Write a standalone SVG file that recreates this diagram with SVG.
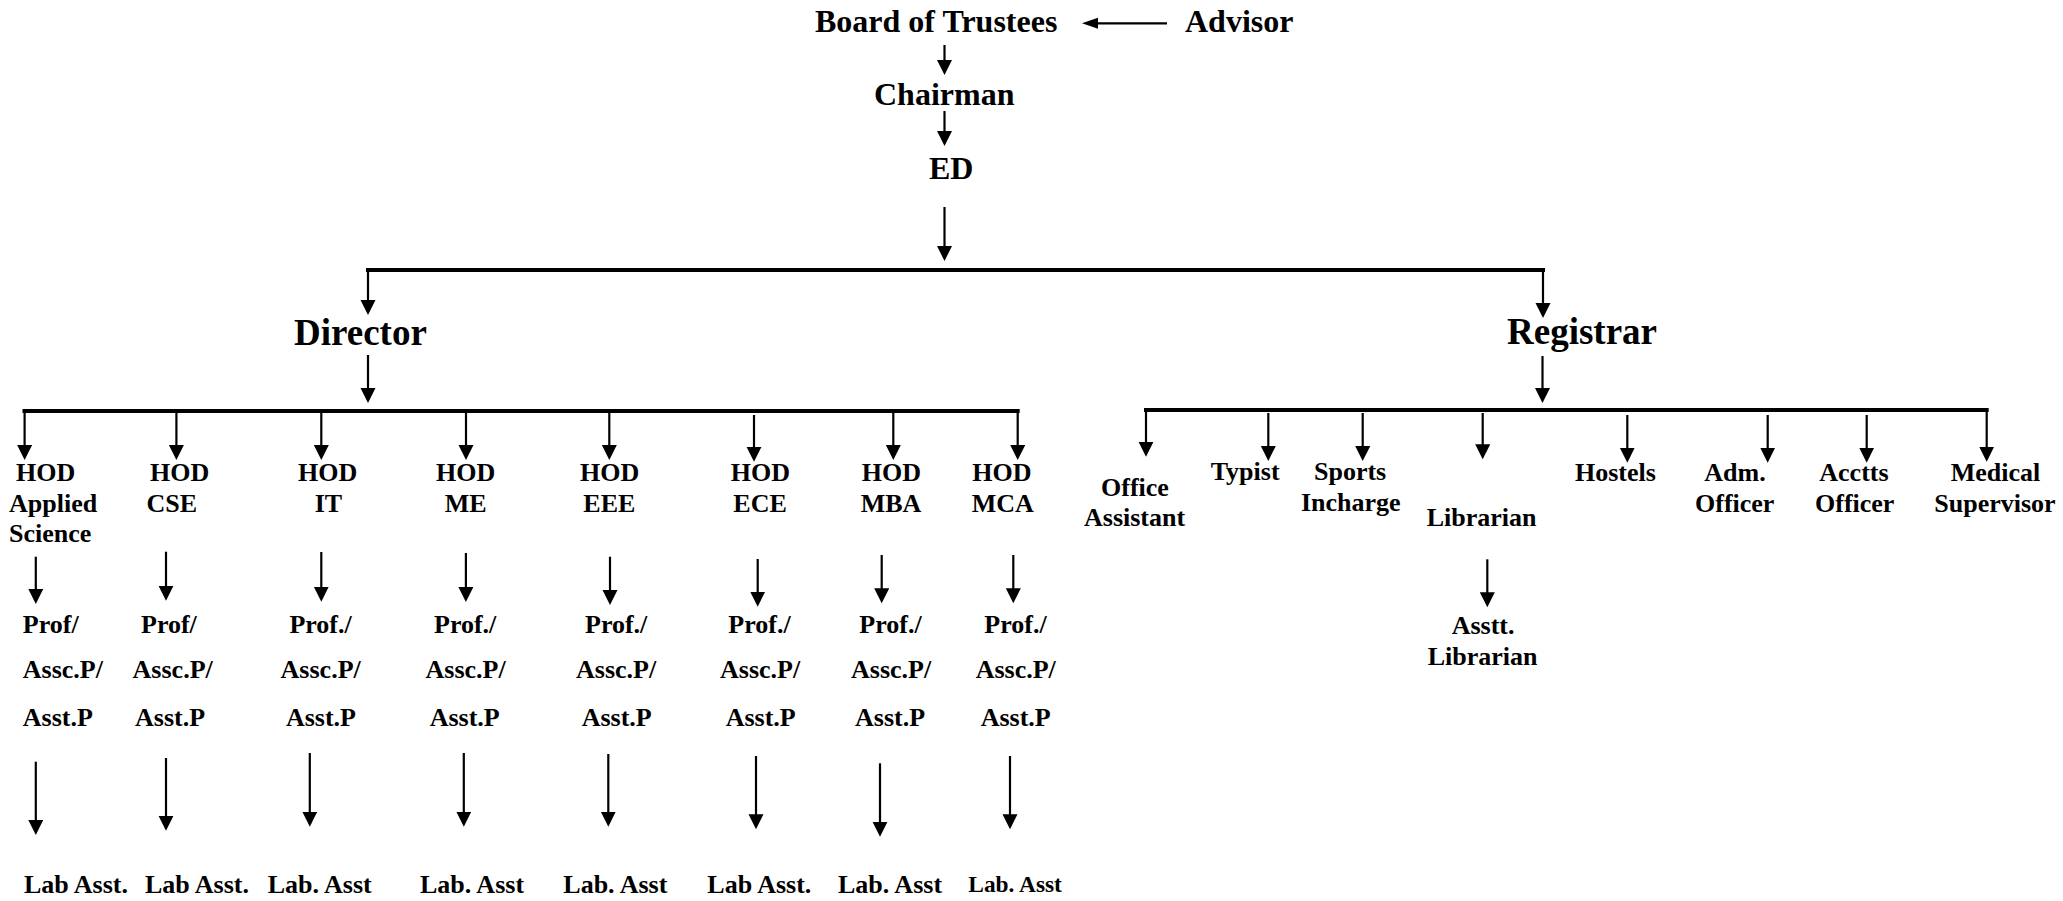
<svg xmlns="http://www.w3.org/2000/svg" width="2063" height="901" viewBox="0 0 2063 901">
<style>
text{font-family:"Liberation Serif","Times New Roman",serif;font-weight:bold;fill:#000}
.t1{font-size:32px}
.t2{font-size:37px}
.t3{font-size:26px}
.t4{font-size:23.4px}
.ln{stroke:#000;stroke-width:2.2;fill:none}
.bar{stroke:#000;stroke-width:4;fill:none;stroke-linecap:square}
.ar{stroke:#000;stroke-width:2.2;fill:none;marker-end:url(#ah)}
.ars{stroke:#000;stroke-width:2.2;fill:none;marker-end:url(#ahs)}
</style>
<defs>
<marker id="ah" markerUnits="userSpaceOnUse" markerWidth="16" markerHeight="16" refX="4" refY="7.5" orient="auto">
<path d="M0,0 L15,7.5 L0,15 Z" fill="#000"/>
</marker>
<marker id="ahs" markerUnits="userSpaceOnUse" markerWidth="17" markerHeight="12" refX="4" refY="5.5" orient="auto">
<path d="M0,0 L16,5.5 L0,11 Z" fill="#000"/>
</marker>
</defs>
<rect width="2063" height="901" fill="#fff"/>

<g id="connectors">
<line class="ars" x1="1167" y1="23.3" x2="1094" y2="23.3"/>
<line class="ar" x1="944.5" y1="45" x2="944.5" y2="64"/>
<line class="ar" x1="944.5" y1="111" x2="944.5" y2="135"/>
<line class="ar" x1="944.5" y1="207" x2="944.5" y2="250"/>
<path class="bar" d="M368,270 H1543"/>
<line class="ar" x1="368" y1="270" x2="368" y2="304"/>
<line class="ar" x1="1543" y1="270" x2="1543" y2="307"/>
<line class="ar" x1="368" y1="355" x2="368" y2="392"/>
<line class="ar" x1="1542.5" y1="356" x2="1542.5" y2="392"/>
<path class="bar" d="M24.5,411 H1017.7"/>
<line class="ar" x1="24.6" y1="411" x2="24.6" y2="449"/>
<line class="ar" x1="176.4" y1="411" x2="176.4" y2="449"/>
<line class="ar" x1="321.3" y1="411" x2="321.3" y2="449"/>
<line class="ar" x1="466" y1="411" x2="466" y2="449"/>
<line class="ar" x1="609.3" y1="411" x2="609.3" y2="449"/>
<line class="ar" x1="754" y1="415" x2="754" y2="450.7"/>
<line class="ar" x1="893.3" y1="411" x2="893.3" y2="449"/>
<line class="ar" x1="1017.7" y1="411" x2="1017.7" y2="449"/>
<path class="bar" d="M1146,410 H1986.7"/>
<line class="ar" x1="1146" y1="410" x2="1146" y2="445.7"/>
<line class="ar" x1="1268.3" y1="413" x2="1268.3" y2="450"/>
<line class="ar" x1="1362.7" y1="413" x2="1362.7" y2="450"/>
<line class="ar" x1="1482.7" y1="413" x2="1482.7" y2="448.3"/>
<line class="ar" x1="1627.3" y1="415" x2="1627.3" y2="451.7"/>
<line class="ar" x1="1767.7" y1="415" x2="1767.7" y2="451.7"/>
<line class="ar" x1="1866.7" y1="415" x2="1866.7" y2="451.7"/>
<line class="ar" x1="1986.7" y1="410" x2="1986.7" y2="450.7"/>
<line class="ar" x1="1487.3" y1="559.3" x2="1487.3" y2="596.3"/>
<line class="ar" x1="35.8" y1="556.7" x2="35.8" y2="593"/>
<line class="ar" x1="166" y1="551.7" x2="166" y2="589.7"/>
<line class="ar" x1="321.3" y1="552" x2="321.3" y2="590.7"/>
<line class="ar" x1="465.9" y1="553" x2="465.9" y2="591"/>
<line class="ar" x1="610" y1="556.7" x2="610" y2="594"/>
<line class="ar" x1="757.7" y1="559" x2="757.7" y2="595.7"/>
<line class="ar" x1="881.7" y1="555" x2="881.7" y2="592.3"/>
<line class="ar" x1="1013.3" y1="555" x2="1013.3" y2="592.3"/>
<line class="ar" x1="35.8" y1="761.7" x2="35.8" y2="824"/>
<line class="ar" x1="166" y1="758" x2="166" y2="819.7"/>
<line class="ar" x1="309.8" y1="753" x2="309.8" y2="815.7"/>
<line class="ar" x1="463.8" y1="753" x2="463.8" y2="815.7"/>
<line class="ar" x1="608.3" y1="754" x2="608.3" y2="815.7"/>
<line class="ar" x1="756" y1="756" x2="756" y2="818.3"/>
<line class="ar" x1="880" y1="763.3" x2="880" y2="825.7"/>
<line class="ar" x1="1010" y1="756" x2="1010" y2="818.3"/>
</g>

<g id="board"><text class="t1" x="815" y="31.5">Board of Trustees</text></g>
<g id="advisor"><text class="t1" x="1185" y="31.5">Advisor</text></g>
<g id="chairman"><text class="t1" x="874" y="105">Chairman</text></g>
<g id="ed"><text class="t1" x="929" y="179">ED</text></g>
<g id="director"><text class="t2" x="294" y="345">Director</text></g>
<g id="registrar"><text class="t2" x="1507" y="344">Registrar</text></g>

<g id="hod-as" class="t3"><text class="t3" x="16" y="481">HOD</text><text class="t3" x="9" y="511.5">Applied</text><text class="t3" x="9" y="542">Science</text></g>
<g id="hod-cse"><text class="t3" x="150" y="481">HOD</text><text class="t3" x="146.6" y="511.5">CSE</text></g>
<g id="hod-it"><text class="t3" x="298" y="481">HOD</text><text class="t3" x="314.7" y="511.5">IT</text></g>
<g id="hod-me"><text class="t3" x="436" y="481">HOD</text><text class="t3" x="444.8" y="511.5">ME</text></g>
<g id="hod-eee"><text class="t3" x="580" y="481">HOD</text><text class="t3" x="583.3" y="511.5">EEE</text></g>
<g id="hod-ece"><text class="t3" x="730.7" y="481">HOD</text><text class="t3" x="733.3" y="511.5">ECE</text></g>
<g id="hod-mba"><text class="t3" x="861.7" y="481">HOD</text><text class="t3" x="860.7" y="511.5">MBA</text></g>
<g id="hod-mca"><text class="t3" x="972.3" y="481">HOD</text><text class="t3" x="971.7" y="511.5">MCA</text></g>

<g id="prof-as"><text class="t3" x="22.8" y="633.3">Prof/</text><text class="t3" x="22.8" y="678.3">Assc.P/</text><text class="t3" x="22.8" y="725.7">Asst.P</text></g>
<g id="prof-cse"><text class="t3" x="141" y="633.3">Prof/</text><text class="t3" x="132.6" y="678.3">Assc.P/</text><text class="t3" x="135" y="725.7">Asst.P</text></g>
<g id="prof-it"><text class="t3" x="289.4" y="633.3">Prof./</text><text class="t3" x="280.6" y="678.3">Assc.P/</text><text class="t3" x="285.9" y="725.7">Asst.P</text></g>
<g id="prof-me"><text class="t3" x="434" y="633.3">Prof./</text><text class="t3" x="425.5" y="678.3">Assc.P/</text><text class="t3" x="429.7" y="725.7">Asst.P</text></g>
<g id="prof-eee"><text class="t3" x="585" y="633.3">Prof./</text><text class="t3" x="576" y="678.3">Assc.P/</text><text class="t3" x="581.7" y="725.7">Asst.P</text></g>
<g id="prof-ece"><text class="t3" x="728.3" y="633.3">Prof./</text><text class="t3" x="720" y="678.3">Assc.P/</text><text class="t3" x="725.7" y="725.7">Asst.P</text></g>
<g id="prof-mba"><text class="t3" x="859.3" y="633.3">Prof./</text><text class="t3" x="851" y="678.3">Assc.P/</text><text class="t3" x="855" y="725.7">Asst.P</text></g>
<g id="prof-mca"><text class="t3" x="984.3" y="633.3">Prof./</text><text class="t3" x="975.7" y="678.3">Assc.P/</text><text class="t3" x="980.7" y="725.7">Asst.P</text></g>

<g id="lab-as"><text class="t3" x="23.9" y="893">Lab Asst.</text></g>
<g id="lab-cse"><text class="t3" x="144.9" y="893">Lab Asst.</text></g>
<g id="lab-it"><text class="t3" x="267.7" y="893">Lab. Asst</text></g>
<g id="lab-me"><text class="t3" x="420" y="893">Lab. Asst</text></g>
<g id="lab-eee"><text class="t3" x="563.3" y="893">Lab. Asst</text></g>
<g id="lab-ece"><text class="t3" x="707.3" y="893">Lab Asst.</text></g>
<g id="lab-mba"><text class="t3" x="838" y="893">Lab. Asst</text></g>
<g id="lab-mca"><text class="t4" x="968.3" y="891.7">Lab. Asst</text></g>

<g id="office-assistant"><text class="t3" x="1101" y="495.7">Office</text><text class="t3" x="1084" y="526">Assistant</text></g>
<g id="typist"><text class="t3" x="1210.7" y="480">Typist</text></g>
<g id="sports"><text class="t3" x="1314" y="480">Sports</text><text class="t3" x="1301" y="510.7">Incharge</text></g>
<g id="librarian"><text class="t3" x="1426.7" y="526">Librarian</text></g>
<g id="asstt-librarian"><text class="t3" x="1451.7" y="634">Asstt.</text><text class="t3" x="1427.7" y="665">Librarian</text></g>
<g id="hostels"><text class="t3" x="1575" y="480.7">Hostels</text></g>
<g id="adm-officer"><text class="t3" x="1704.3" y="480.7">Adm.</text><text class="t3" x="1695" y="511.7">Officer</text></g>
<g id="acctts-officer"><text class="t3" x="1819.3" y="480.7">Acctts</text><text class="t3" x="1815" y="511.7">Officer</text></g>
<g id="medical-supervisor"><text class="t3" x="1950.7" y="480.7">Medical</text><text class="t3" x="1934.3" y="511.7">Supervisor</text></g>
</svg>
